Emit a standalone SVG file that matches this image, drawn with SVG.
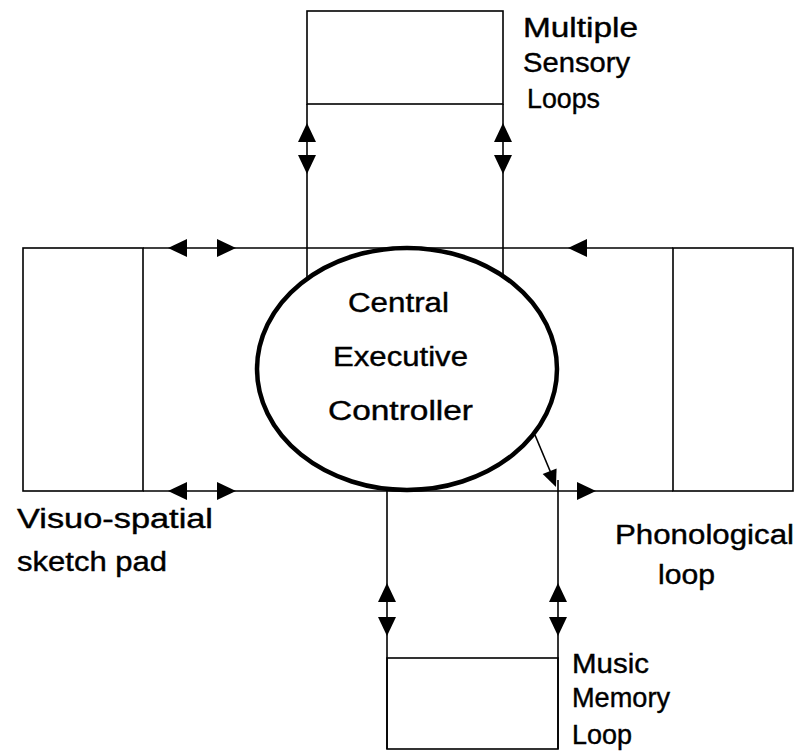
<svg xmlns="http://www.w3.org/2000/svg" xmlns:xlink="http://www.w3.org/1999/xlink" width="800" height="753" viewBox="0 0 800 753">
<style>
.box{fill:none;stroke:#000;stroke-width:1.6}
.ln{fill:none;stroke:#000;stroke-width:1.6}
.ell{fill:#fff;stroke:#000;stroke-width:4.5}
.ah{fill:#000;stroke:none}
text{font-family:"Liberation Sans","DejaVu Sans",Arial,sans-serif;font-size:27px;fill:#000;stroke:#000;stroke-width:0.4}
</style>
<defs>
<path id="ah" class="ah" d="M0,0 L-19,-9 L-19,9 Z"/>
<path id="ahs" class="ah" d="M0,0 L-17,-7.5 L-17,7.5 Z"/>
</defs>
<rect width="800" height="753" fill="#fff"/>
<g id="connectors">
  <line class="ln" x1="143" y1="248" x2="673" y2="248"/>
  <line class="ln" x1="143" y1="491" x2="673" y2="491"/>
  <line class="ln" x1="307" y1="104" x2="307" y2="300"/>
  <line class="ln" x1="503" y1="104" x2="503" y2="300"/>
  <line class="ln" x1="387" y1="460" x2="387" y2="749"/>
  <line class="ln" x1="558" y1="480" x2="558" y2="749"/>
  <line class="ln" x1="535" y1="435" x2="553" y2="478"/>
  <use xlink:href="#ah" transform="translate(307,123) rotate(-90)"/>
  <use xlink:href="#ah" transform="translate(307,174) rotate(90)"/>
  <use xlink:href="#ah" transform="translate(503,123) rotate(-90)"/>
  <use xlink:href="#ah" transform="translate(503,174) rotate(90)"/>
  <use xlink:href="#ah" transform="translate(387,583) rotate(-90)"/>
  <use xlink:href="#ah" transform="translate(387,636) rotate(90)"/>
  <use xlink:href="#ah" transform="translate(558,583) rotate(-90)"/>
  <use xlink:href="#ah" transform="translate(558,636) rotate(90)"/>
  <use xlink:href="#ah" transform="translate(168,248) rotate(180)"/>
  <use xlink:href="#ah" transform="translate(236,248)"/>
  <use xlink:href="#ah" transform="translate(168,491) rotate(180)"/>
  <use xlink:href="#ah" transform="translate(236,491)"/>
  <use xlink:href="#ah" transform="translate(568,248) rotate(180)"/>
  <use xlink:href="#ah" transform="translate(596,491)"/>
  <use xlink:href="#ahs" transform="translate(556,487) rotate(68)"/>
</g>
<g id="sensory-loops">
  <rect class="box" x="307" y="11" width="196" height="93"/>
  <text x="523" y="37" textLength="115" lengthAdjust="spacingAndGlyphs">Multiple</text>
  <text x="523" y="72" textLength="107" lengthAdjust="spacingAndGlyphs">Sensory</text>
  <text x="527" y="108" textLength="73" lengthAdjust="spacingAndGlyphs">Loops</text>
</g>
<g id="visuo-spatial">
  <rect class="box" x="23" y="248" width="120" height="243"/>
  <text x="17" y="528" textLength="196" lengthAdjust="spacingAndGlyphs">Visuo-spatial</text>
  <text x="17" y="571" textLength="150" lengthAdjust="spacingAndGlyphs">sketch pad</text>
</g>
<g id="phonological">
  <rect class="box" x="673" y="248" width="120" height="243"/>
  <text x="615" y="544" textLength="179" lengthAdjust="spacingAndGlyphs">Phonological</text>
  <text x="658" y="584" textLength="57" lengthAdjust="spacingAndGlyphs">loop</text>
</g>
<g id="music-memory">
  <rect class="box" x="387" y="658" width="171" height="91"/>
  <text x="572" y="673" textLength="77" lengthAdjust="spacingAndGlyphs">Music</text>
  <text x="572" y="707" textLength="98" lengthAdjust="spacingAndGlyphs">Memory</text>
  <text x="572" y="744" textLength="60" lengthAdjust="spacingAndGlyphs">Loop</text>
</g>
<g id="central-executive">
  <ellipse class="ell" cx="407" cy="369" rx="150" ry="121"/>
  <text x="348" y="312" textLength="101" lengthAdjust="spacingAndGlyphs">Central</text>
  <text x="333" y="366" textLength="135" lengthAdjust="spacingAndGlyphs">Executive</text>
  <text x="328" y="420" textLength="145" lengthAdjust="spacingAndGlyphs">Controller</text>
</g>
</svg>
